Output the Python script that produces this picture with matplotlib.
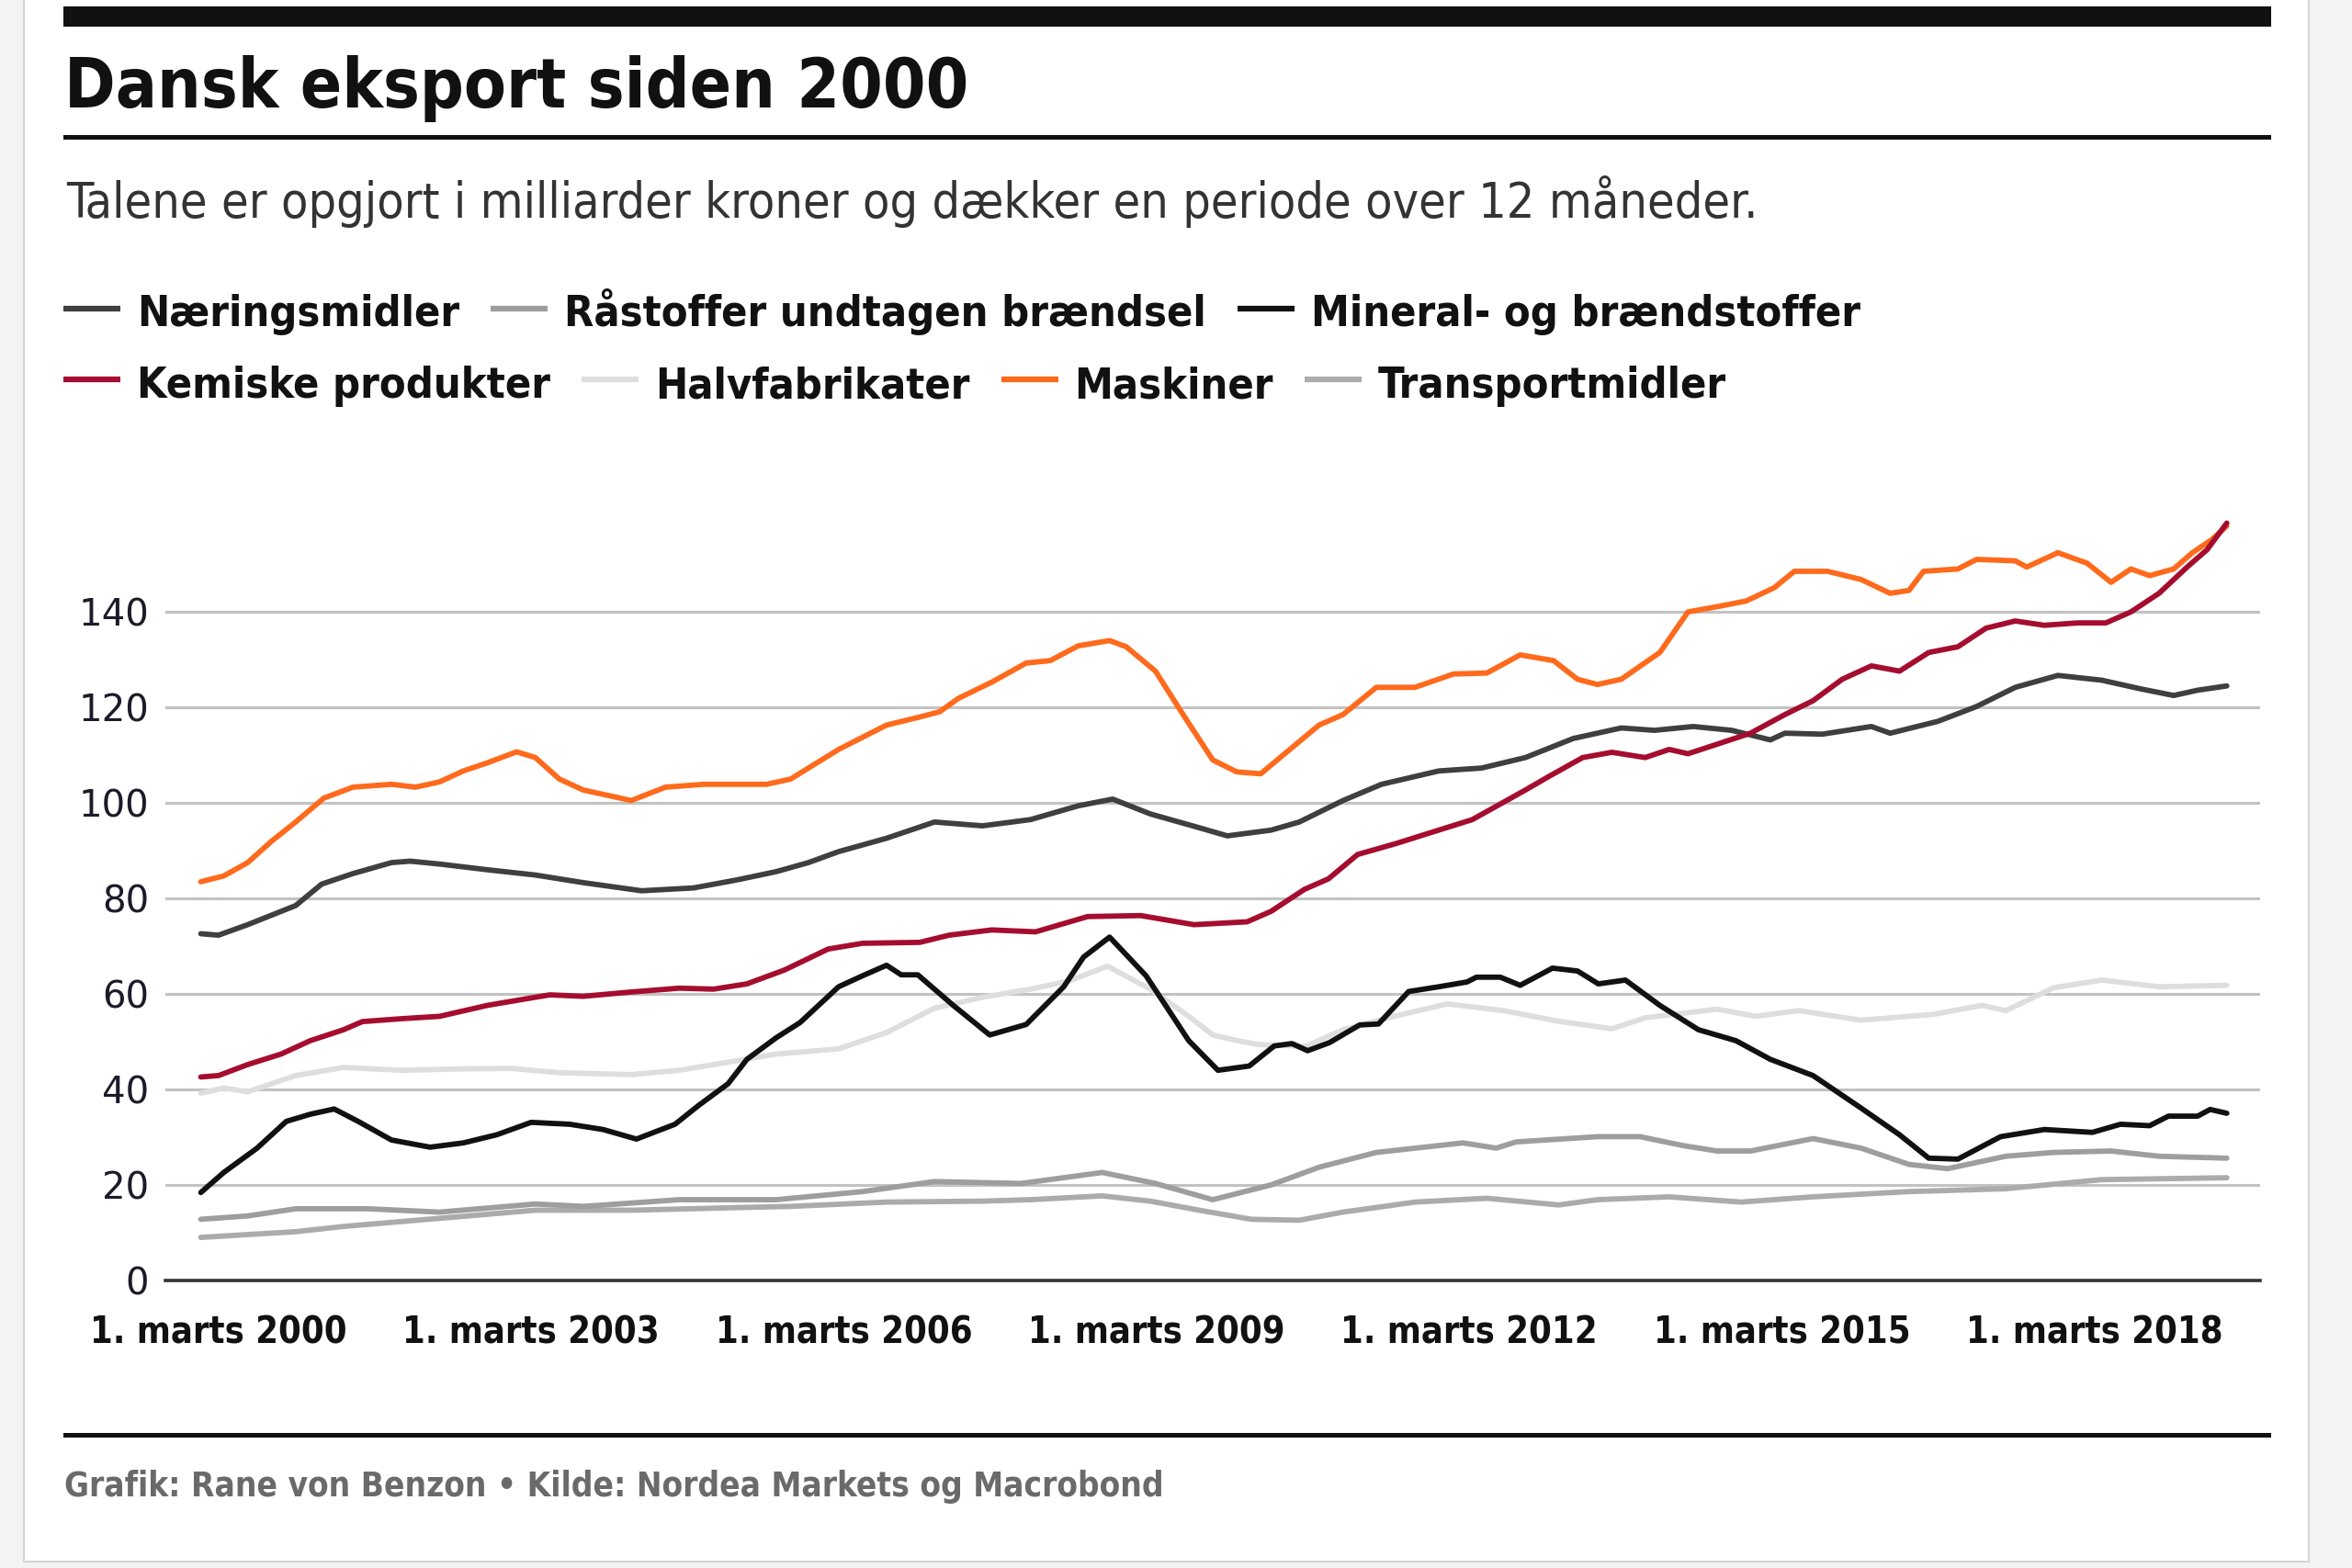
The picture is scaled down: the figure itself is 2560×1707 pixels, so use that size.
import matplotlib
matplotlib.use("Agg")
import matplotlib.pyplot as plt
from matplotlib import font_manager as fm
from matplotlib.font_manager import FontProperties
from matplotlib.patches import Rectangle
from matplotlib.lines import Line2D

plt.rcParams['font.family'] = ['DejaVu Sans']

# --- data (mia. kr., løbende 12 mdr.) ---
names = ['Næringsmidler', 'Råstoffer undtagen brændsel', 'Mineral- og brændstoffer',
         'Kemiske produkter', 'Halvfabrikater', 'Maskiner', 'Transportmidler']
colors = ['#3f3f3f', '#9e9e9e', '#111111', '#a50d2e', '#dedede', '#ff6a1c', '#ababab']

naering_x = [2000.0, 2000.17, 2000.45, 2000.91, 2001.16, 2001.46, 2001.83, 2002.01, 2002.29,
             2002.75, 2003.21, 2003.67, 2004.23, 2004.73, 2005.15, 2005.52, 2005.83, 2006.12,
             2006.58, 2007.04, 2007.5, 2007.96, 2008.42, 2008.75, 2009.11, 2009.58, 2009.85,
             2010.27, 2010.54, 2010.96, 2011.33, 2011.88, 2012.29, 2012.71, 2013.17, 2013.63,
             2013.95, 2014.32, 2014.69, 2015.06, 2015.2, 2015.56, 2016.03, 2016.21, 2016.67,
             2017.04, 2017.41, 2017.82, 2018.24, 2018.61, 2018.93, 2019.16, 2019.44]
naering_y = [72.6, 72.3, 74.5, 78.5, 83.0, 85.2, 87.5, 87.8, 87.2,
             86.0, 84.9, 83.3, 81.6, 82.2, 83.9, 85.6, 87.5, 89.8,
             92.6, 96.0, 95.2, 96.5, 99.4, 100.8, 97.7, 94.8, 93.1,
             94.3, 96.0, 100.5, 103.9, 106.7, 107.3, 109.5, 113.5, 115.7,
             115.2, 116.0, 115.2, 113.2, 114.6, 114.4, 116.0, 114.6, 117.1,
             120.2, 124.2, 126.7, 125.7, 123.9, 122.5, 123.6, 124.5]

raastof_x = [2000.0, 2000.45, 2000.91, 2001.6, 2002.29, 2003.21, 2003.67, 2004.59, 2005.52,
             2006.35, 2007.04, 2007.87, 2008.65, 2009.16, 2009.71, 2010.27, 2010.73, 2011.28,
             2012.11, 2012.43, 2012.62, 2013.4, 2013.81, 2014.23, 2014.55, 2014.87, 2015.47,
             2015.93, 2016.39, 2016.76, 2017.32, 2017.78, 2018.33, 2018.79, 2019.44]
raastof_y = [12.8, 13.5, 15.0, 15.0, 14.3, 16.0, 15.5, 16.9, 16.9,
             18.6, 20.7, 20.3, 22.6, 20.3, 16.9, 20.0, 23.7, 26.8,
             28.8, 27.7, 29.0, 30.1, 30.1, 28.2, 27.1, 27.1, 29.7,
             27.7, 24.3, 23.4, 26.0, 26.8, 27.1, 26.0, 25.6]

mineral_x = [2000.0, 2000.22, 2000.54, 2000.82, 2001.05, 2001.28, 2001.51, 2001.83, 2002.2,
             2002.52, 2002.84, 2003.17, 2003.54, 2003.86, 2004.18, 2004.55, 2004.78, 2005.06,
             2005.24, 2005.52, 2005.75, 2006.12, 2006.35, 2006.58, 2006.72, 2006.88, 2007.22,
             2007.57, 2007.92, 2008.28, 2008.47, 2008.72, 2009.07, 2009.48, 2009.76, 2010.06,
             2010.3, 2010.47, 2010.62, 2010.83, 2011.12, 2011.3, 2011.59, 2011.88, 2012.15,
             2012.24, 2012.47, 2012.66, 2012.97, 2013.21, 2013.41, 2013.67, 2014.0, 2014.37,
             2014.73, 2015.06, 2015.47, 2015.93, 2016.3, 2016.58, 2016.86, 2017.27, 2017.69,
             2018.15, 2018.42, 2018.7, 2018.88, 2019.16, 2019.28, 2019.44]
mineral_y = [18.4, 22.6, 27.7, 33.3, 34.8, 35.9, 33.3, 29.4, 27.9,
             28.8, 30.5, 33.1, 32.7, 31.6, 29.6, 32.7, 36.7, 41.2,
             46.3, 50.8, 54.0, 61.5, 63.8, 66.0, 64.0, 64.0, 57.6,
             51.4, 53.6, 61.5, 67.7, 71.9, 63.8, 50.2, 44.0, 44.9,
             49.1, 49.6, 48.1, 49.8, 53.5, 53.7, 60.5, 61.5, 62.5,
             63.5, 63.5, 61.8, 65.4, 64.8, 62.1, 62.9, 57.6, 52.5,
             50.2, 46.3, 42.9, 36.1, 30.5, 25.6, 25.4, 30.1, 31.6,
             31.0, 32.7, 32.4, 34.4, 34.4, 35.8, 35.0]

kemi_x = [2000.0, 2000.17, 2000.45, 2000.77, 2001.05, 2001.37, 2001.55, 2001.92, 2002.29,
          2002.75, 2003.21, 2003.35, 2003.67, 2004.13, 2004.59, 2004.92, 2005.24, 2005.6,
          2006.02, 2006.35, 2006.9, 2007.18, 2007.59, 2008.01, 2008.51, 2009.02, 2009.53,
          2010.04, 2010.27, 2010.59, 2010.82, 2011.1, 2011.47, 2011.79, 2012.2, 2012.48,
          2012.71, 2012.94, 2013.26, 2013.54, 2013.86, 2014.09, 2014.27, 2014.55, 2014.87,
          2015.2, 2015.47, 2015.75, 2016.03, 2016.3, 2016.58, 2016.86, 2017.13, 2017.41,
          2017.69, 2018.01, 2018.28, 2018.52, 2018.79, 2019.07, 2019.25, 2019.44]
kemi_y = [42.6, 42.9, 45.2, 47.4, 50.2, 52.5, 54.2, 54.8, 55.3,
          57.6, 59.3, 59.8, 59.5, 60.4, 61.2, 61.0, 62.1, 65.0,
          69.4, 70.6, 70.8, 72.3, 73.4, 73.0, 76.2, 76.4, 74.5,
          75.1, 77.3, 81.9, 84.1, 89.2, 91.5, 93.7, 96.5, 99.9,
          102.7, 105.6, 109.5, 110.6, 109.5, 111.2, 110.3, 112.3, 114.6,
          118.5, 121.4, 125.9, 128.7, 127.6, 131.5, 132.7, 136.6, 138.1,
          137.2, 137.7, 137.7, 140.0, 143.9, 149.6, 153.0, 158.6]

halvfab_x = [2000.0, 2000.22, 2000.45, 2000.91, 2001.37, 2001.92, 2002.52, 2002.98, 2003.44,
             2004.13, 2004.59, 2005.06, 2005.52, 2005.75, 2006.12, 2006.58, 2007.04, 2007.5,
             2007.96, 2008.33, 2008.7, 2009.11, 2009.48, 2009.71, 2009.95, 2010.15, 2010.6,
             2010.96, 2011.45, 2011.96, 2012.5, 2013.02, 2013.54, 2013.86, 2014.55, 2014.92,
             2015.33, 2015.93, 2016.62, 2017.09, 2017.32, 2017.78, 2018.24, 2018.79, 2019.44]
halvfab_y = [39.2, 40.3, 39.5, 42.9, 44.6, 44.0, 44.3, 44.4, 43.5,
             43.1, 44.0, 45.7, 47.4, 47.8, 48.5, 51.9, 57.0, 59.3,
             61.0, 62.7, 65.8, 61.0, 55.3, 51.4, 50.2, 49.4, 49.0,
             52.5, 55.3, 57.9, 56.5, 54.3, 52.7, 55.0, 56.8, 55.3,
             56.5, 54.5, 55.7, 57.6, 56.5, 61.3, 62.9, 61.5, 61.8]

maskin_x = [2000.0, 2000.22, 2000.45, 2000.68, 2000.91, 2001.18, 2001.46, 2001.83, 2002.06,
            2002.29, 2002.52, 2002.75, 2003.03, 2003.21, 2003.44, 2003.67, 2004.13, 2004.46,
            2004.83, 2005.43, 2005.66, 2006.12, 2006.58, 2006.9, 2007.09, 2007.27, 2007.59,
            2007.92, 2008.15, 2008.42, 2008.72, 2008.88, 2009.16, 2009.44, 2009.71, 2009.94,
            2010.17, 2010.45, 2010.73, 2010.96, 2011.28, 2011.65, 2012.02, 2012.34, 2012.66,
            2012.98, 2013.21, 2013.4, 2013.63, 2014.0, 2014.27, 2014.55, 2014.83, 2015.1,
            2015.29, 2015.61, 2015.93, 2016.21, 2016.39, 2016.53, 2016.86, 2017.04, 2017.41,
            2017.52, 2017.82, 2018.1, 2018.33, 2018.52, 2018.7, 2018.93, 2019.11, 2019.3, 2019.44]
maskin_y = [83.5, 84.7, 87.5, 92.0, 96.0, 101.0, 103.3, 103.9, 103.3,
            104.4, 106.7, 108.4, 110.7, 109.5, 105.0, 102.7, 100.5, 103.3,
            103.9, 103.9, 105.0, 111.2, 116.3, 118.0, 119.1, 121.9, 125.3,
            129.3, 129.8, 132.9, 134.0, 132.7, 127.6, 118.0, 109.0, 106.5,
            106.1, 111.2, 116.3, 118.5, 124.2, 124.2, 127.0, 127.2, 131.0,
            129.8, 125.9, 124.8, 125.9, 131.5, 140.0, 141.1, 142.3, 145.1,
            148.5, 148.5, 146.8, 143.9, 144.5, 148.5, 149.0, 151.0, 150.7,
            149.4, 152.4, 150.2, 146.2, 149.0, 147.6, 149.0, 152.4, 155.2, 158.0]

transport_x = [2000.0, 2000.45, 2000.91, 2001.37, 2002.29, 2003.21, 2004.13, 2005.06, 2005.66,
               2006.58, 2007.5, 2007.96, 2008.65, 2009.11, 2009.58, 2010.08, 2010.54, 2010.96,
               2011.65, 2012.34, 2013.03, 2013.4, 2014.09, 2014.78, 2015.47, 2016.39, 2017.32,
               2018.24, 2019.44]
transport_y = [9.0, 9.6, 10.2, 11.3, 13.0, 14.7, 14.7, 15.2, 15.5,
               16.4, 16.6, 16.9, 17.7, 16.6, 14.7, 12.8, 12.6, 14.3,
               16.4, 17.2, 15.8, 16.9, 17.5, 16.4, 17.5, 18.6, 19.2,
               21.1, 21.5]

series_x = [naering_x, raastof_x, mineral_x, kemi_x, halvfab_x, maskin_x, transport_x]
series_y = [naering_y, raastof_y, mineral_y, kemi_y, halvfab_y, maskin_y, transport_y]

tick_years = [2000.17, 2003.17, 2006.17, 2009.17, 2012.17, 2015.17, 2018.17]
tick_labels = ['1. marts 2000', '1. marts 2003', '1. marts 2006', '1. marts 2009',
               '1. marts 2012', '1. marts 2015', '1. marts 2018']


# --- pick a condensed face if one is installed ---
def weight_of(f):
    w = f.weight
    if isinstance(w, str):
        w = fm.weight_dict.get(w, 400)
    return w


def condensed(bold):
    for fam in ['Liberation Sans Narrow', 'Noto Sans', 'DejaVu Sans', 'Open Sans', 'Roboto', 'Lato']:
        for f in fm.fontManager.ttflist:
            if (f.name == fam and f.style == 'normal'
                    and f.stretch in ('condensed', 'semi-condensed', 'extra-condensed')
                    and (weight_of(f) >= 600) == bold and 300 <= weight_of(f) <= 700):
                return FontProperties(fname=f.fname)
    return FontProperties(family=['Lato', 'DejaVu Sans'], weight='bold' if bold else 'normal')


BOLD = condensed(True)
REG = condensed(False)

# --- layout helpers (pixel positions of the 2560x1707 canvas) ---
W, H = 2560, 1707
fig = plt.figure(figsize=(W / 100, H / 100), dpi=100, facecolor='#f3f3f3')
renderer = fig.canvas.get_renderer()


def fx(x):
    return x / W


def fy(y):
    return 1 - y / H


def rect(x0, x1, y0, y1, color, **kw):
    fig.add_artist(Rectangle((fx(x0), fy(y1)), fx(x1) - fx(x0), fy(y0) - fy(y1),
                             transform=fig.transFigure, facecolor=color, **kw))


def fit(t, width):
    w = t.get_window_extent(renderer).width
    t.set_fontsize(t.get_fontsize() * width / w)
    return t.get_fontsize()


def text(x, y, s, fp, size, width, **kw):
    t = fig.text(fx(x), fy(y), s, fontproperties=fp.copy(), va='baseline', **kw)
    t.set_fontsize(size)
    if width:
        fit(t, width)
    return t


# white card with a thin border
rect(26, 2513, -10, 1700, 'white', edgecolor='#d4d4d4', lw=1.5, zorder=0)
# rules
rect(69, 2472, 7, 29, '#111111', lw=0)
rect(69, 2472, 146.5, 151.5, '#111111', lw=0)
rect(69, 2472, 1559.5, 1564.5, '#111111', lw=0)

text(70, 117, 'Dansk eksport siden 2000', BOLD, 60, 985, color='#111111')
text(72, 237, 'Talene er opgjort i milliarder kroner og dækker en periode over 12 måneder.',
     REG, 30, 1840, color='#333333')

# legend drawn by hand, two rows
probe = text(0, 0, names[1], BOLD, 40, 699)
leg_size = probe.get_fontsize()
probe.remove()

rows = [([0, 1, 2], 336, 355), ([3, 4, 5, 6], 413, 433)]
for idx, yc, yb in rows:
    x = 69
    for i in idx:
        fig.add_artist(Line2D([fx(x), fx(x + 62)], [fy(yc), fy(yc)], lw=4.5,
                              color=colors[i], transform=fig.transFigure,
                              solid_capstyle='butt'))
        t = text(x + 80, yb, names[i], BOLD, leg_size, None, color='#111111')
        x = x + 80 + t.get_window_extent(renderer).width + 34

text(70, 1629, 'Grafik: Rane von Benzon • Kilde: Nordea Markets og Macrobond',
     BOLD, 30, 1193, color='#6a6a6a')

probe = text(0, 0, tick_labels[0], BOLD, 38, 279)
tick_size = probe.get_fontsize()
probe.remove()

# --- chart ---
ax = fig.add_axes([fx(180), fy(1393.9), fx(2460) - fx(180), fy(562.2) - fy(1393.9)])
ax.set_facecolor('none')
ax.set_xlim(1999.66, 2019.76)
ax.set_ylim(0, 160)
ax.set_yticks(range(0, 141, 20))
ax.yaxis.grid(True, color='#c2c2c2', lw=2.2)
ax.set_axisbelow(True)
for s in ['top', 'right', 'left']:
    ax.spines[s].set_visible(False)
ax.spines['bottom'].set_color('#333333')
ax.spines['bottom'].set_linewidth(2.6)
ax.spines['bottom'].set_zorder(1)

order = [6, 1, 4, 0, 2, 5, 3]
for i in order:
    ax.plot(series_x[i], series_y[i], color=colors[i], lw=4.2, zorder=3,
            solid_joinstyle='round', solid_capstyle='round')

ax.tick_params(axis='y', length=0, pad=13, labelsize=29, labelcolor='#1b1b2a')
ax.set_xticks(tick_years)
tick_fp = BOLD.copy()
tick_fp.set_size(tick_size)
ax.set_xticklabels(tick_labels, fontproperties=tick_fp, color='#111111')
ax.tick_params(axis='x', length=0, pad=27)

fig.savefig('out.png', dpi=100, facecolor=fig.get_facecolor())
